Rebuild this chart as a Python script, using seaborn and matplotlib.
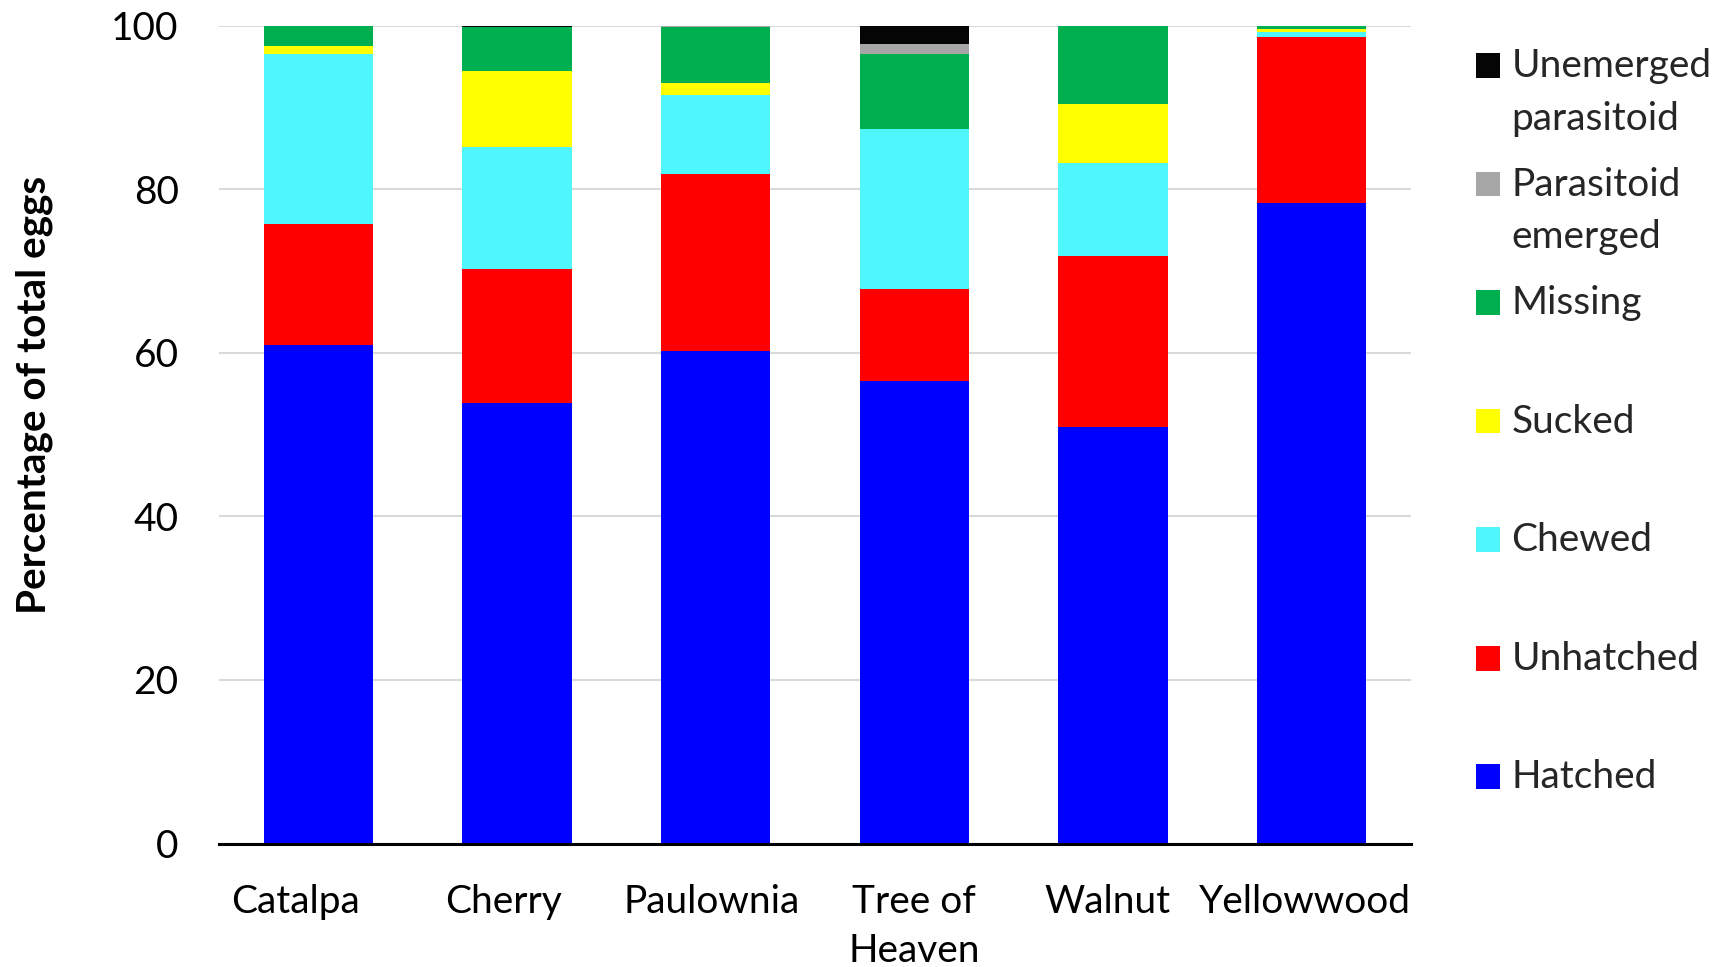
import matplotlib
matplotlib.use("Agg")
import matplotlib.pyplot as plt
import matplotlib.transforms as mtransforms
from matplotlib.patches import Patch, Rectangle
from matplotlib.legend_handler import HandlerPatch
import numpy as np
import seaborn as sns

# Fate of eggs on each host tree (% of total eggs), bottom segment first
hosts = ["Catalpa", "Cherry", "Paulownia", "Tree of\nHeaven", "Walnut", "Yellowwood"]
hatched = [61.0, 53.9, 60.2, 56.5, 50.9, 78.3]
unhatched = [14.7, 16.4, 21.6, 11.3, 20.9, 20.3]
chewed = [20.8, 14.8, 9.7, 19.5, 11.4, 0.6]
sucked = [1.0, 9.4, 1.5, 0.0, 7.2, 0.4]
missing = [2.5, 5.3, 6.8, 9.2, 9.6, 0.4]
parasitoid_emerged = [0.0, 0.0, 0.2, 1.3, 0.0, 0.0]
unemerged_parasitoid = [0.0, 0.2, 0.0, 2.2, 0.0, 0.0]

series_names = ["Hatched", "Unhatched", "Chewed", "Sucked", "Missing",
                "Parasitoid emerged", "Unemerged parasitoid"]
series_values = [hatched, unhatched, chewed, sucked, missing,
                 parasitoid_emerged, unemerged_parasitoid]
legend_labels = ["Hatched", "Unhatched", "Chewed", "Sucked", "Missing",
                 "Parasitoid\nemerged", "Unemerged\nparasitoid"]
colors = ["#0000FF", "#FF0000", "#4FF7FC", "#FFFF00", "#00B050",
          "#A6A6A6", "#050505"]
yticks = [0, 20, 40, 60, 80, 100]

sns.set_theme(style="white")
plt.rcParams["font.family"] = ["Lato", "DejaVu Sans"]

FS = 28

fig = plt.figure(figsize=(17.25, 9.67), dpi=100)
W, H = 1725, 967
left, right, top, bottom = 219, 1411, 25.6, 843.6
ax = fig.add_axes([left / W, (H - bottom) / H, (right - left) / W, (bottom - top) / H])

# Stacked bars: draw running totals from the top segment down so each
# lower segment covers the one above it.
cum = np.cumsum(np.array(series_values), axis=0)
for i in range(len(series_names) - 1, -1, -1):
    sns.barplot(x=hosts, y=cum[i], color=colors[i], saturation=1,
                width=0.55, edgecolor="none", linewidth=0, ax=ax, zorder=3)

ax.set_xlim(-0.5, len(hosts) - 0.5)
ax.set_ylim(0, 100)
ax.set_yticks(yticks)
ax.yaxis.grid(True, color="#D9D9D9", linewidth=1.5, zorder=0)
ax.set_axisbelow(True)
for s in ["left", "right", "top"]:
    ax.spines[s].set_visible(False)
ax.spines["bottom"].set_color("black")
ax.spines["bottom"].set_linewidth(2.2)
ax.spines["bottom"].set_zorder(4)

ax.tick_params(axis="y", length=0, pad=29, labelsize=FS, colors="black")
ax.tick_params(axis="x", length=0, pad=29, labelsize=FS, colors="black")

# category labels sit slightly left of their bars
label_shift_pt = [-16.5, -9.5, -3.0, 0.0, -4.0, -5.0]
for lbl, dx in zip(ax.get_xticklabels(), label_shift_pt):
    lbl.set_multialignment("center")
    lbl.set_linespacing(1.45)
    lbl.set_transform(lbl.get_transform() +
                      mtransforms.ScaledTranslation(dx / 72, 0, fig.dpi_scale_trans))

ax.set_xlabel("")
ax.set_ylabel("Percentage of total eggs", fontsize=29.2, fontweight="bold",
              color="black")
ax.yaxis.set_label_coords(-0.139, 0.548)


class FirstLinePatchHandler(HandlerPatch):
    """Square legend key aligned with the first line of its label."""

    def __init__(self, shift, **kw):
        super().__init__(**kw)
        self.shift = shift

    def create_artists(self, legend, orig_handle, xdescent, ydescent,
                       width, height, fontsize, trans):
        p = Rectangle((-xdescent, -ydescent + self.shift), width, height,
                      facecolor=orig_handle.get_facecolor(),
                      edgecolor="none", transform=trans)
        return [p]


handles = [Patch(facecolor=c, edgecolor="none") for c in colors][::-1]
labels = [l if "\n" in l else l + "\n " for l in legend_labels][::-1]
leg = ax.legend(handles, labels, loc="upper left",
                bbox_to_anchor=(1476 / W, 1 - 48 / H),
                bbox_transform=fig.transFigure, frameon=False,
                fontsize=FS, handlelength=0.62, handleheight=0.6,
                handletextpad=0.29, labelspacing=0.765, borderpad=0,
                borderaxespad=0,
                handler_map={Patch: FirstLinePatchHandler(shift=20)})
for t in leg.get_texts():
    t.set_linespacing(1.58)

fig.savefig("out.png", dpi=100, facecolor="white")
